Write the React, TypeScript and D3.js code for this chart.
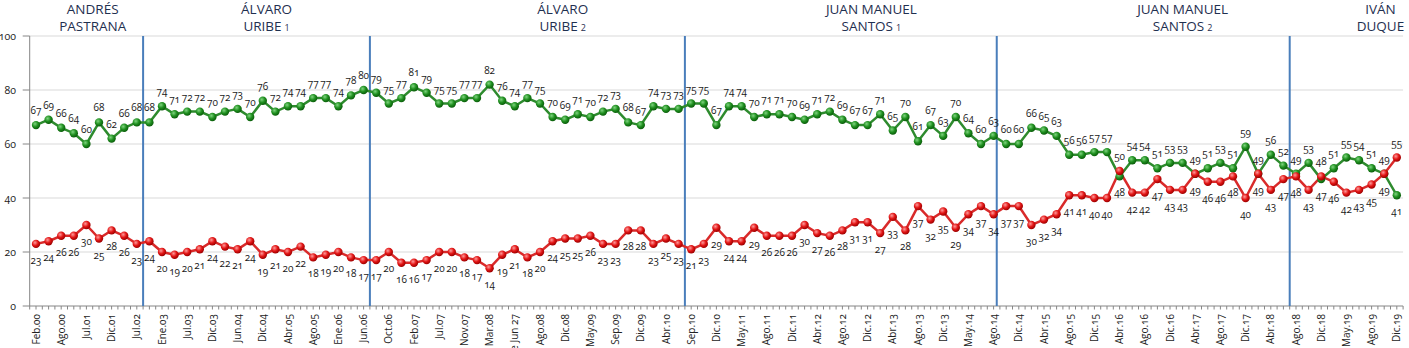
import React from "react";
import * as d3 from "d3";

// ---------- DATA ----------
const approval = [
  // Pastrana
  67, 69, 66, 64, 60, 68, 62, 66, 68,
  // Uribe 1
  68, 74, 71, 72, 72, 70, 72, 73, 70, 76, 72, 74, 74, 77, 77, 74, 78, 80,
  // Uribe 2
  79, 75, 77, 81, 79, 75, 75, 77, 77, 82, 76, 74, 77, 75, 70, 69, 71, 70, 72, 73, 68, 67, 74, 73, 73,
  // Santos 1
  75, 75, 67, 74, 74, 70, 71, 71, 70, 69, 71, 72, 69, 67, 67, 71, 65, 70, 61, 67, 63, 70, 64, 60, 63,
  // Santos 2
  60, 60, 66, 65, 63, 56, 56, 57, 57, 48, 54, 54, 51, 53, 53, 49, 51, 53, 51, 59, 49, 56, 52,
  // Duque
  49, 53, 47, 51, 55, 54, 51, 49, 41,
];

const disapproval = [
  23, 24, 26, 26, 30, 25, 28, 26, 23,
  24, 20, 19, 20, 21, 24, 22, 21, 24, 19, 21, 20, 22, 18, 19, 20, 18, 17,
  17, 20, 16, 16, 17, 20, 20, 18, 17, 14, 19, 21, 18, 20, 24, 25, 25, 26, 23, 23, 28, 28, 23, 25, 23,
  21, 23, 29, 24, 24, 29, 26, 26, 26, 30, 27, 26, 28, 31, 31, 27, 33, 28, 37, 32, 35, 29, 34, 37, 34,
  37, 37, 30, 32, 34, 41, 41, 40, 40, 50, 42, 42, 47, 43, 43, 49, 46, 46, 48, 40, 49, 43, 47,
  48, 43, 48, 46, 42, 43, 45, 49, 55,
];

// one label every second survey
const tickLabels = [
  "Feb.00", "Ago.00", "Jul.01", "Dic.01", "Jul.02", "Ene.03", "Jul.03", "Dic.03", "Jun.04", "Dic.04",
  "Abr.05", "Ago.05", "Ene.06", "Jun.06", "Oct.06", "Feb.07", "Jul.07", "Nov.07", "Mar.08", "de Jun 27",
  "Ago.08", "Dic.08", "May.09", "Sep.09", "Dic.09", "Abr.10", "Sep.10", "Dic.10", "May.11", "Ago.11",
  "Dic.11", "Abr.12", "Ago.12", "Dic.12", "Abr.13", "Ago.13", "Dic.13", "May.14", "Ago.14", "Dic.14",
  "Abr.15", "Ago.15", "Dic.15", "Abr.16", "Ago.16", "Dic.16", "Abr.17", "Ago.17", "Dic.17", "Abr.18",
  "Ago.18", "Dic.18", "May.19", "Ago.19", "Dic.19",
];

const termLine1 = ["ANDRÉS", "ÁLVARO", "ÁLVARO", "JUAN MANUEL", "JUAN MANUEL", "IVÁN"];
const termLine2 = ["PASTRANA", "URIBE", "URIBE", "SANTOS", "SANTOS", "DUQUE"];
const termSub = ["", "1", "2", "1", "2", ""];
const termStart = [0, 9, 27, 52, 77, 100];
const yTicks = [0, 20, 40, 60, 80, 100];

// ---------- LAYOUT ----------
const W = 1409;
const H = 348;
const PLOT_TOP = 36;
const PLOT_BOTTOM = 306;
const titleAt = [4.5, 18.3, 41.8, 66.3, 91, 106.7]; // in survey-index units
const boundaryFrac = [0.5, 0.5, 0.5, 0.25, 0.5];
const FONT = "'Open Sans', 'DejaVu Sans', sans-serif";

export default function App() {
  const n = approval.length;
  const x = d3.scaleLinear().domain([0, n - 1]).range([36, 1396.8]);
  const step = x(1) - x(0);
  const y = d3.scaleLinear().domain([0, 100]).range([PLOT_BOTTOM, PLOT_TOP]);
  const left = x(-0.5);
  const right = x(n - 0.5);

  const line = d3
    .line<number>()
    .x((_, i) => x(i))
    .y((d) => y(d));

  const minorTicks = d3.range(0, 2 * n + 1).map((k) => x(k / 2 - 0.5));

  return (
    <svg
      width={W}
      height={H}
      style={{ position: "absolute", left: 0, top: 0, background: "#fff" }}
      fontFamily={FONT}
    >
      <defs>
        <radialGradient id="gGreen" cx="38%" cy="35%" r="65%">
          <stop offset="0%" stopColor="#7fd47f" />
          <stop offset="55%" stopColor="#1f8f1f" />
          <stop offset="100%" stopColor="#0b5e0b" />
        </radialGradient>
        <radialGradient id="gRed" cx="38%" cy="35%" r="65%">
          <stop offset="0%" stopColor="#ff9a9a" />
          <stop offset="55%" stopColor="#e21515" />
          <stop offset="100%" stopColor="#9e0000" />
        </radialGradient>
      </defs>

      {/* gridlines */}
      {yTicks.map((t) => (
        <g key={"g" + t}>
          {t > 0 && (
            <line x1={left} x2={right} y1={y(t)} y2={y(t)} stroke="#d9d9d9" strokeWidth={1} />
          )}
          <line x1={left - 7} x2={left} y1={y(t)} y2={y(t)} stroke="#868686" strokeWidth={1} />
          <text
            x={16}
            y={y(t)}
            dy="0.35em"
            textAnchor="end"
            fontSize={10.5}
            fill="#222"
            style={{ fontVariantNumeric: "oldstyle-nums" }}
          >
            {t}
          </text>
        </g>
      ))}

      {/* axes */}
      <line x1={left} x2={left} y1={PLOT_TOP} y2={PLOT_BOTTOM} stroke="#868686" strokeWidth={1} />
      <line x1={left} x2={right} y1={PLOT_BOTTOM} y2={PLOT_BOTTOM} stroke="#868686" strokeWidth={1} />
      {minorTicks.map((tx, k) => (
        <line key={"mt" + k} x1={tx} x2={tx} y1={PLOT_BOTTOM} y2={PLOT_BOTTOM + 3.5} stroke="#868686" strokeWidth={1} />
      ))}

      {/* x labels */}
      {tickLabels.map((lab, j) => (
        <text
          key={"xl" + j}
          transform={`translate(${x(j * 2)},${PLOT_BOTTOM + 8}) rotate(-90)`}
          textAnchor="end"
          dy="0.35em"
          fontSize={10}
          fill="#222"
          style={{ fontVariantNumeric: "oldstyle-nums" }}
        >
          {lab}
        </text>
      ))}

      {/* term boundary lines */}
      {termStart.slice(1).map((s, k) => {
        const bx = x(s - 1 + boundaryFrac[k]);
        return (
          <line key={"b" + k} x1={bx} x2={bx} y1={PLOT_TOP} y2={PLOT_BOTTOM} stroke="#4a7ebb" strokeWidth={2} />
        );
      })}

      {/* titles */}
      {termLine1.map((t, k) => (
        <g key={"t" + k} fill="#1f3050" fontSize={13.5} textAnchor="middle">
          <text x={x(titleAt[k])} y={13.5}>{t}</text>
          <text x={x(titleAt[k])} y={30.5}>
            {termLine2[k]}
            {termSub[k] && (
              <tspan fontSize={9} dx={3}>
                {termSub[k]}
              </tspan>
            )}
          </text>
        </g>
      ))}

      {/* lines */}
      <path d={line(approval) || ""} fill="none" stroke="#2e8b2e" strokeWidth={2.5} />
      <path d={line(disapproval) || ""} fill="none" stroke="#d92a2a" strokeWidth={2.5} />

      {/* dots */}
      {approval.map((v, i) => (
        <circle key={"ga" + i} cx={x(i)} cy={y(v)} r={4.2} fill="url(#gGreen)" />
      ))}
      {disapproval.map((v, i) => (
        <circle key={"gr" + i} cx={x(i)} cy={y(v)} r={4.2} fill="url(#gRed)" />
      ))}

      {/* data labels */}
      <g fontSize={10} fill="#1a1a1a" textAnchor="middle" style={{ fontVariantNumeric: "oldstyle-nums" }}>
        {approval.map((v, i) => {
          const above = v >= disapproval[i];
          return (
            <text key={"la" + i} x={x(i)} y={above ? y(v) - 11 : y(v) + 20}>
              {v}
            </text>
          );
        })}
        {disapproval.map((v, i) => {
          const above = v > approval[i];
          return (
            <text key={"lr" + i} x={x(i)} y={above ? y(v) - 11 : y(v) + 20}>
              {v}
            </text>
          );
        })}
      </g>
    </svg>
  );
}
